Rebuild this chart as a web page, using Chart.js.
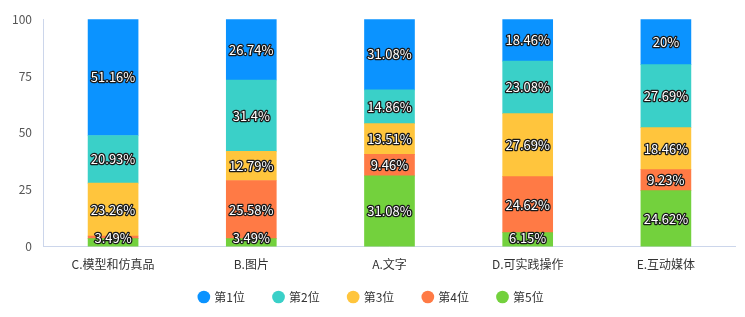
<!DOCTYPE html>
<html>
<head>
<meta charset="utf-8">
<script src="https://cdn.jsdelivr.net/npm/chart.js@4/dist/chart.umd.min.js"></script>
<style>
html,body{margin:0;padding:0;background:#fff;}
#wrap{width:745px;height:317px;}
</style>
</head>
<body>
<div id="wrap"><canvas id="c" width="745" height="317"></canvas></div>
<script>
const categories = ['C.模型和仿真品', 'B.图片', 'A.文字', 'D.可实践操作', 'E.互动媒体'];
const seriesNames = ['第1位', '第2位', '第3位', '第4位', '第5位'];
const rank1 = [51.16, 26.74, 31.08, 18.46, 20];
const rank2 = [20.93, 31.4, 14.86, 23.08, 27.69];
const rank3 = [23.26, 12.79, 13.51, 27.69, 18.46];
const rank4 = [1.16, 25.58, 9.46, 24.62, 9.23];
const rank5 = [3.49, 3.49, 31.08, 6.15, 24.62];
const yTicks = [0, 25, 50, 75, 100];
const colors = ['#0b93ff', '#3ad0c8', '#ffc53d', '#ff7a45', '#73d13d'];

const FONT = '"Noto Sans CJK SC", "Noto Sans", sans-serif';
const allSeries = [rank1, rank2, rank3, rank4, rank5];

// stack bottom-up: 第5位 at bottom
const datasets = [];
for (let i = 4; i >= 0; i--) {
  datasets.push({
    label: seriesNames[i],
    data: allSeries[i],
    backgroundColor: colors[i],
    borderWidth: 0,
    barThickness: 50
  });
}

const labelPlugin = {
  id: 'segLabels',
  afterDatasetsDraw(chart) {
    const ctx = chart.ctx;
    const yBottom = chart.scales.y.bottom;
    ctx.save();
    ctx.font = '13px ' + FONT;
    ctx.textAlign = 'center';
    ctx.textBaseline = 'middle';
    ctx.lineJoin = 'round';
    chart.data.datasets.forEach((ds, di) => {
      const meta = chart.getDatasetMeta(di);
      meta.data.forEach((el, j) => {
        const v = ds.data[j];
        if (v < 2) return;
        let y = (el.y + el.base) / 2;
        if (y > yBottom - 9) y = yBottom - 9;
        const t = v + '%';
        ctx.lineWidth = 2.5;
        ctx.strokeStyle = '#1a1a1a';
        ctx.strokeText(t, el.x, y);
        ctx.fillStyle = '#ffffff';
        ctx.fillText(t, el.x, y);
      });
    });
    ctx.restore();
  }
};

// keep legend compact vertically while keeping wide horizontal spacing
const legendFix = {
  id: 'legendFix',
  beforeLayout(chart) {
    const lg = chart.legend;
    if (lg && !lg._patched) {
      lg._patched = true;
      const origFit = lg.fit;
      lg.fit = function () { origFit.call(this); this.height = 34; };
    }
  },
  afterLayout(chart) {
    const lg = chart.legend;
    if (lg) { lg.top -= 21; lg.left += 4; lg.right += 4; }
  }
};

new Chart(document.getElementById('c'), {
  type: 'bar',
  data: { labels: categories, datasets },
  options: {
    responsive: false,
    animation: false,
    layout: { padding: { top: 13, right: 10, left: 0, bottom: 0 } },
    plugins: {
      tooltip: { enabled: false },
      legend: {
        position: 'bottom',
        reverse: true,
        labels: {
          usePointStyle: true,
          pointStyle: 'circle',
          boxWidth: 9,
          boxHeight: 9,
          padding: 29,
          color: '#333',
          font: { family: FONT, size: 12 }
        }
      }
    },
    scales: {
      x: {
        stacked: true,
        grid: { display: false, drawTicks: false },
        border: { color: '#ccd6eb' },
        ticks: { color: '#333', padding: 11, font: { family: FONT, size: 12 } }
      },
      y: {
        stacked: true,
        min: 0,
        max: 100,
        afterBuildTicks(axis) { axis.ticks = yTicks.map(v => ({ value: v })); },
        grid: { display: false, drawTicks: false },
        border: { color: '#ccd6eb' },
        ticks: { color: '#555', padding: 12, font: { family: FONT, size: 12 } }
      }
    }
  },
  plugins: [labelPlugin, legendFix]
});
</script>
</body>
</html>
